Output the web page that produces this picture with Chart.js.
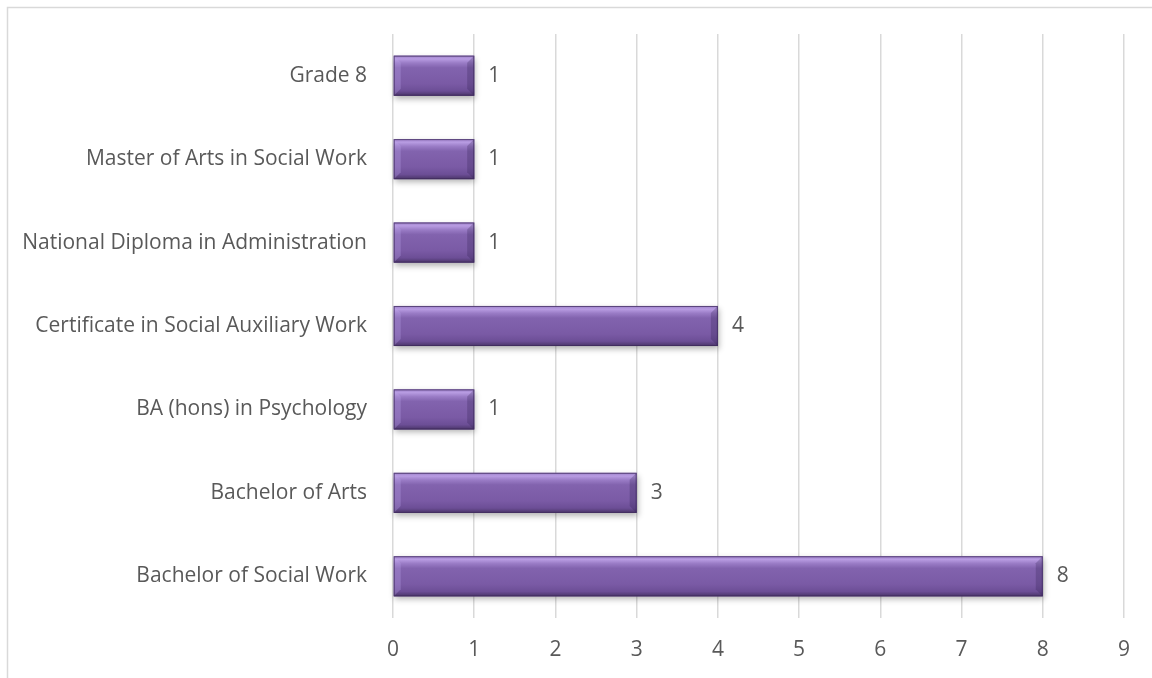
<!DOCTYPE html>
<html><head><meta charset="utf-8">
<script src="https://cdn.jsdelivr.net/npm/chart.js@4"></script>
<style>html,body{margin:0;padding:0;background:#fff}#wrap{width:1152px;height:678px}</style>
</head><body><div id="wrap"><canvas id="c" width="1152" height="678"></canvas></div>
<script>
const categories = ["Grade 8","Master of Arts in Social Work","National Diploma in Administration","Certificate in Social Auxiliary Work","BA (hons) in Psychology","Bachelor of Arts","Bachelor of Social Work"];
const values = [1,1,1,4,1,3,8];
const xTicks = [0,1,2,3,4,5,6,7,8,9];
const FONT = "'Open Sans', sans-serif";

const framePlugin = {
  id:'frame',
  beforeDraw(chart){
    const c=chart.ctx; c.save(); c.fillStyle='#fff'; c.fillRect(0,0,chart.width,chart.height);
    c.strokeStyle='#d9d9d9'; c.lineWidth=1.5; c.strokeRect(7.5,7.5,chart.width+10,chart.height+10); c.restore();
  }
};
const barStyle = {
  id:'barStyle',
  afterDatasetsDraw(chart){
    const c=chart.ctx; const meta=chart.getDatasetMeta(0);
    meta.data.forEach((b,i)=>{
      const x0=b.base, x1=b.x, y0=b.y-b.height/2, y1=b.y+b.height/2, h=b.height;
      c.save();
      c.shadowColor='rgba(0,0,0,0.3)'; c.shadowBlur=6; c.shadowOffsetX=1; c.shadowOffsetY=3;
      c.fillStyle='#6e4f99'; c.fillRect(x0,y0,x1-x0,h);
      c.restore();
      c.save();
      const g=c.createLinearGradient(0,y0,0,y1);
      g.addColorStop(0,'#9c7fc8'); g.addColorStop(0.08,'#b89ce2'); g.addColorStop(0.18,'#9a7cc6');
      g.addColorStop(0.3,'#8263ae'); g.addColorStop(0.7,'#7a5aa5'); g.addColorStop(0.88,'#6c4e96'); g.addColorStop(1,'#4a3568');
      c.fillStyle=g; c.fillRect(x0,y0,x1-x0,h);
      const bv=7;
      c.fillStyle='rgba(190,165,235,0.3)';
      c.beginPath(); c.moveTo(x0,y0); c.lineTo(x0,y1); c.lineTo(x0+bv,y1-bv); c.lineTo(x0+bv,y0+bv); c.closePath(); c.fill();
      c.fillStyle='rgba(45,28,75,0.25)';
      c.beginPath(); c.moveTo(x1,y0); c.lineTo(x1,y1); c.lineTo(x1-bv,y1-bv); c.lineTo(x1-bv,y0+bv); c.closePath(); c.fill();
      c.strokeStyle='rgba(60,42,90,0.7)'; c.lineWidth=1; c.strokeRect(x0+0.5,y0+0.5,x1-x0-1,h-1);
      c.restore();
      c.save(); c.fillStyle='#595959'; c.font='21px '+FONT; c.textBaseline='middle'; c.textAlign='left';
      c.fillText(String(values[i]), x1+14, b.y); c.restore();
    });
  }
};

new Chart(document.getElementById('c'),{
  type:'bar',
  data:{labels:categories,datasets:[{data:values,backgroundColor:'rgba(0,0,0,0)',borderWidth:0,barPercentage:0.8,categoryPercentage:0.6}]},
  options:{
    indexAxis:'y', responsive:false, animation:false,
    layout:{padding:{top:34,right:28,bottom:0,left:0}},
    plugins:{legend:{display:false},tooltip:{enabled:false}},
    scales:{
      x:{min:0,max:9,afterBuildTicks(ax){ax.ticks=xTicks.map(v=>({value:v}));},
         grid:{color:'#d9d9d9',lineWidth:1.5,drawTicks:false},border:{display:false},
         afterFit(ax){ax.height=60;},
         ticks:{color:'#595959',font:{family:FONT,size:21},padding:19}},
      y:{grid:{display:false},border:{display:false},
         afterFit(ax){ax.width=393;},
         ticks:{color:'#595959',font:{family:FONT,size:21},padding:18}}
    }
  },
  plugins:[framePlugin,barStyle]
});
</script></body></html>
